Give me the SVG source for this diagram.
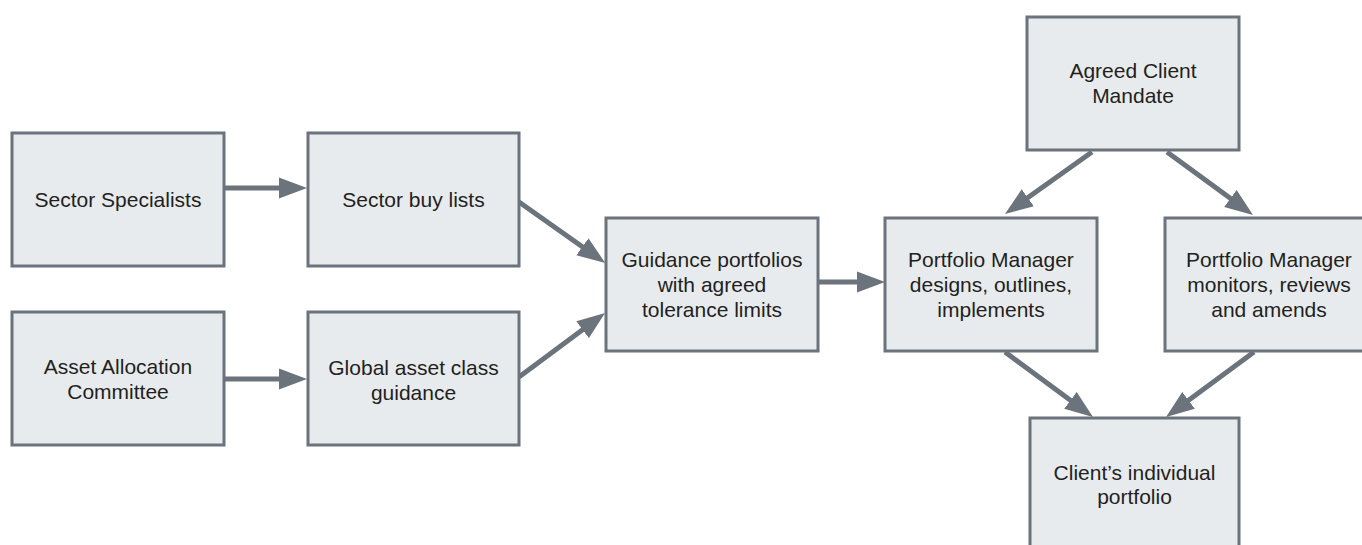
<svg xmlns="http://www.w3.org/2000/svg" width="1362" height="545" viewBox="0 0 1362 545">
<style>
.box{fill:#e8ebee;stroke:#6b737c;stroke-width:3}
.lbl{font-family:"Liberation Sans",Arial,sans-serif;font-size:21px;fill:#231f20;text-anchor:middle}
.conn{stroke:#6b737c;stroke-width:5;fill:none;marker-end:url(#ah)}
</style>
<defs>
<marker id="ah" markerUnits="userSpaceOnUse" markerWidth="28" markerHeight="22" refX="13" refY="11" orient="auto">
<path d="M0,0.5 L28,11 L0,21.5 z" fill="#6b737c"/>
</marker>
</defs>
<rect width="1362" height="545" fill="#ffffff"/>
<g id="connectors">
<line class="conn" x1="224" y1="188" x2="292" y2="188"/>
<line class="conn" x1="224" y1="379" x2="292" y2="379"/>
<line class="conn" x1="519" y1="202" x2="593" y2="254.3"/>
<line class="conn" x1="519" y1="377" x2="593" y2="322"/>
<line class="conn" x1="818" y1="282" x2="870" y2="282"/>
<line class="conn" x1="1092" y1="152" x2="1017.2" y2="205.3"/>
<line class="conn" x1="1167" y1="152" x2="1240.9" y2="206.1"/>
<line class="conn" x1="1005" y1="352" x2="1080.9" y2="408.1"/>
<line class="conn" x1="1254" y1="352" x2="1178.1" y2="408.1"/>
</g>
<g id="sector-specialists">
<rect class="box" x="12" y="133" width="212" height="133"/>
<text class="lbl" x="118" y="207">Sector Specialists</text>
</g>
<g id="asset-allocation-committee">
<rect class="box" x="12" y="312" width="212" height="133"/>
<text class="lbl"><tspan x="118" y="374">Asset Allocation</tspan><tspan x="118" y="399">Committee</tspan></text>
</g>
<g id="sector-buy-lists">
<rect class="box" x="308" y="133" width="211" height="133"/>
<text class="lbl" x="413.5" y="207">Sector buy lists</text>
</g>
<g id="global-asset-class-guidance">
<rect class="box" x="308" y="312" width="211" height="133"/>
<text class="lbl"><tspan x="413.5" y="375">Global asset class</tspan><tspan x="413.5" y="400">guidance</tspan></text>
</g>
<g id="guidance-portfolios">
<rect class="box" x="606" y="218" width="212" height="133"/>
<text class="lbl"><tspan x="712" y="267">Guidance portfolios</tspan><tspan x="712" y="292">with agreed</tspan><tspan x="712" y="317">tolerance limits</tspan></text>
</g>
<g id="pm-designs">
<rect class="box" x="885" y="218" width="212" height="133"/>
<text class="lbl"><tspan x="991" y="267">Portfolio Manager</tspan><tspan x="991" y="292">designs, outlines,</tspan><tspan x="991" y="317">implements</tspan></text>
</g>
<g id="pm-monitors">
<rect class="box" x="1165" y="218" width="212" height="133"/>
<text class="lbl"><tspan x="1269" y="267">Portfolio Manager</tspan><tspan x="1269" y="292">monitors, reviews</tspan><tspan x="1269" y="317">and amends</tspan></text>
</g>
<g id="agreed-client-mandate">
<rect class="box" x="1027" y="17" width="212" height="133"/>
<text class="lbl"><tspan x="1133" y="78">Agreed Client</tspan><tspan x="1133" y="103">Mandate</tspan></text>
</g>
<g id="clients-individual-portfolio">
<rect class="box" x="1030" y="418" width="209" height="133"/>
<text class="lbl"><tspan x="1134.5" y="480">Client’s individual</tspan><tspan x="1134.5" y="504">portfolio</tspan></text>
</g>
</svg>
